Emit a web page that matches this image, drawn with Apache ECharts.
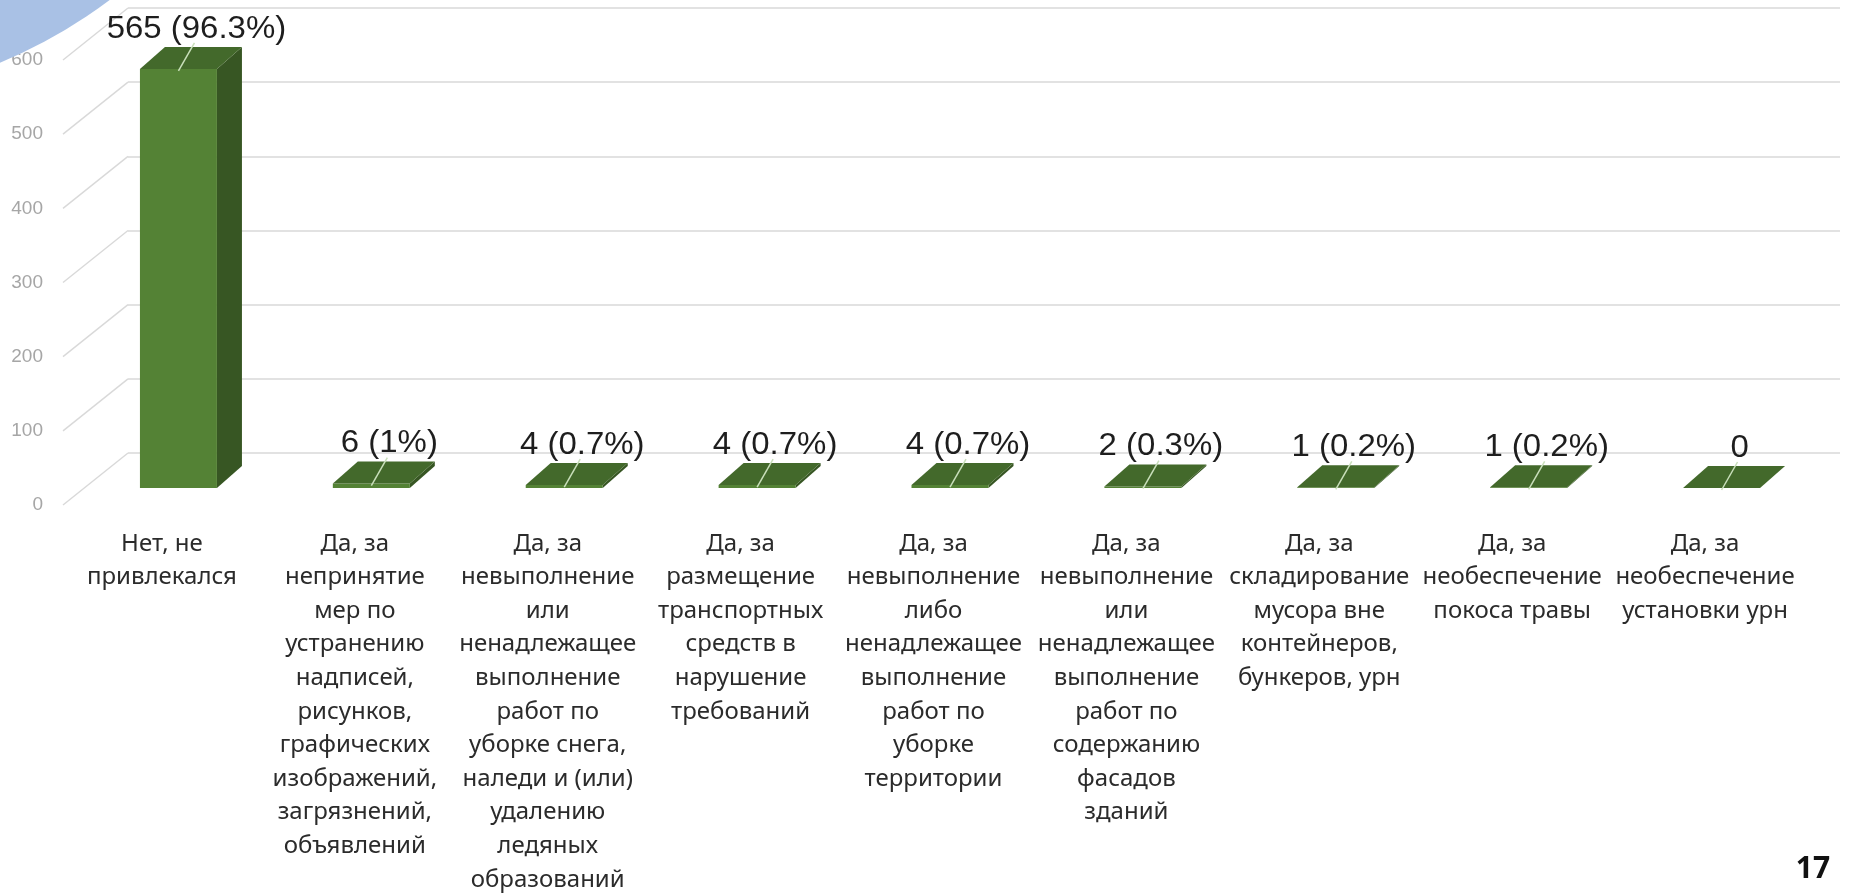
<!DOCTYPE html>
<html><head><meta charset="utf-8">
<script src="https://cdn.jsdelivr.net/npm/echarts@6/dist/echarts.min.js"></script>
<style>html,body{margin:0;padding:0;background:#fff}#c{width:1865px;height:893px}</style>
</head><body><div id="c"></div>
<script>
const categories = [
  'Нет, не\nпривлекался',
  'Да, за\nнепринятие\nмер по\nустранению\nнадписей,\nрисунков,\nграфических\nизображений,\nзагрязнений,\nобъявлений',
  'Да, за\nневыполнение\nили\nненадлежащее\nвыполнение\nработ по\nуборке снега,\nналеди и (или)\nудалению\nледяных\nобразований',
  'Да, за\nразмещение\nтранспортных\nсредств в\nнарушение\nтребований',
  'Да, за\nневыполнение\nлибо\nненадлежащее\nвыполнение\nработ по\nуборке\nтерритории',
  'Да, за\nневыполнение\nили\nненадлежащее\nвыполнение\nработ по\nсодержанию\nфасадов\nзданий',
  'Да, за\nскладирование\nмусора вне\nконтейнеров,\nбункеров, урн',
  'Да, за\nнеобеспечение\nпокоса травы',
  'Да, за\nнеобеспечение\nустановки урн'
];
const values = [565, 6, 4, 4, 4, 2, 1, 1, 0];
const percents = ['96.3', '1', '0.7', '0.7', '0.7', '0.3', '0.2', '0.2', null];
const yTicks = [0, 100, 200, 300, 400, 500, 600];
const pageNumber = '17';

const DX = 25, DY = -22, FRONT_W = 77, FRONT_SHIFT = -22;
const BACK_OFF = -35, LABEL_OFF = 17, SIDE_X0 = 63, SIDE_X1 = 128;

function renderBar(params, api) {
  const i = api.value(0), v = api.value(1);
  const base = api.coord([i, 0]);
  const top = api.coord([i, v]);
  const fl = base[0] + FRONT_SHIFT, fr = fl + FRONT_W;
  const yb = base[1], yt = top[1];
  const fc = fl + FRONT_W / 2;
  const p = percents[params.dataIndex];
  const label = p === null ? String(v) : v + ' (' + p + '%)';
  return {type: 'group', children: [
    {type: 'polygon', shape: {points: [[fr, yt], [fr + DX, yt + DY], [fr + DX, yb + DY], [fr, yb]]}, style: {fill: '#375623'}},
    {type: 'rect', shape: {x: fl, y: yt, width: FRONT_W, height: yb - yt}, style: {fill: '#548235'}},
    {type: 'polygon', shape: {points: [[fl, yt], [fl + DX, yt + DY], [fr + DX, yt + DY], [fr, yt]]}, style: {fill: '#43692b'}},
    {type: 'line', shape: {x1: fc, y1: yt + 2, x2: fc + 16, y2: yt - 26}, style: {stroke: '#c9dfbb', lineWidth: 1.5}},
    {type: 'text', x: fc + 18, y: yt - 40, scaleX: 1.03, style: {text: label, x: 0, y: 0, align: 'center', verticalAlign: 'middle', fill: '#1e1e1e', fontSize: 32, fontFamily: '"Liberation Sans", Arial, sans-serif'}}
  ]};
}

function renderSide(params, api) {
  const y = api.coord([0, api.value(1)])[1];
  return {type: 'line', shape: {x1: SIDE_X0, y1: y + LABEL_OFF, x2: SIDE_X1, y2: y + BACK_OFF}, style: {stroke: '#d9d9d9', lineWidth: 1.5}};
}

const chart = echarts.init(document.getElementById('c'));
chart.setOption({
  animation: false,
  backgroundColor: '#ffffff',
  grid: [
    {left: 65.5, width: 1736, top: 43, height: 445, outerBoundsMode: 'none', containLabel: false},
    {left: 128, right: 25, top: 8, height: 445, outerBoundsMode: 'none', containLabel: false},
    {left: 63, width: 1, top: 60, height: 445, outerBoundsMode: 'none', containLabel: false}
  ],
  xAxis: [
    {type: 'category', gridIndex: 0, data: categories, boundaryGap: true,
     axisLine: {show: false}, axisTick: {show: false}, splitLine: {show: false},
     axisLabel: {interval: 0, margin: 39, color: '#2b2b2b', fontFamily: '"Noto Sans", sans-serif', fontSize: 24, lineHeight: 33.6, align: 'center', verticalAlign: 'top'}},
    {type: 'value', gridIndex: 1, show: false},
    {type: 'value', gridIndex: 2, show: false}
  ],
  yAxis: [
    {type: 'value', gridIndex: 0, min: 0, max: 600, interval: 100, show: false},
    {type: 'value', gridIndex: 1, min: 0, max: 600, interval: 100,
     axisLine: {show: false}, axisTick: {show: false}, axisLabel: {show: false},
     splitLine: {show: true, lineStyle: {color: '#d9d9d9', width: 1.5}}},
    {type: 'value', gridIndex: 2, min: 0, max: 600, interval: 100,
     axisLine: {show: false}, axisTick: {show: false}, splitLine: {show: false},
     axisLabel: {margin: 20, color: '#a6a6a6', fontSize: 19, fontFamily: '"Liberation Sans", Arial, sans-serif'}}
  ],
  series: [
    {type: 'custom', name: 'side', xAxisIndex: 0, yAxisIndex: 0, z: 1, silent: true, clip: false,
     renderItem: renderSide, data: yTicks.map(v => [0, v])},
    {type: 'custom', name: 'bars', xAxisIndex: 0, yAxisIndex: 0, z: 3, clip: false,
     renderItem: renderBar, data: values.map((v, i) => [i, v])}
  ],
  graphic: [
    {type: 'circle', shape: {cx: -192, cy: -400, r: 501}, style: {fill: '#a9c1e5'}, z: 10},
    {type: 'text', x: 1813, y: 869, style: {text: pageNumber, align: 'center', verticalAlign: 'middle', fill: '#111', fontSize: 30, fontWeight: 'bold', fontFamily: '"Noto Sans", sans-serif'}, z: 10}
  ]
});
</script>
</body></html>
